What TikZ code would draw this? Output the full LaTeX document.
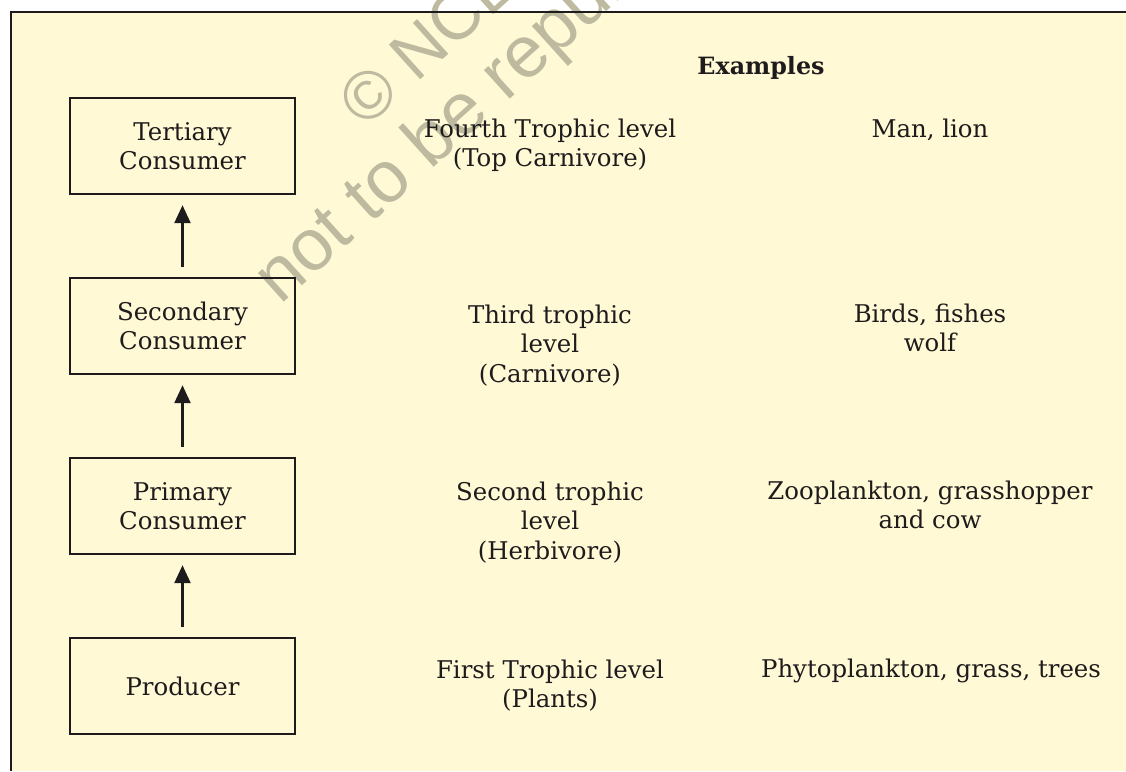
\documentclass[tikz,border=0pt]{standalone}
\usepackage{fontspec}
\setmainfont{DejaVu Serif}
\newfontfamily\wmfont{Liberation Sans}
\usetikzlibrary{arrows.meta}
\definecolor{bgyellow}{HTML}{FFF9D6}
\definecolor{inkc}{HTML}{1E1B1C}
\definecolor{wmc}{HTML}{BDBA9F}
\begin{document}
\begin{tikzpicture}[x=1pt,y=-1pt,
  levelbox/.style={draw=inkc, line width=2.4pt, minimum width=225pt, minimum height=96pt,
    inner sep=0pt, align=center, text=inkc, font=\fontsize{24.4}{29}\selectfont},
  coltext/.style={anchor=base, align=center, inner sep=0pt, text=inkc,
    font=\fontsize{24.4}{29.5}\selectfont},
  uparrow/.style={draw=inkc, line width=2.4pt, -{Triangle[length=18pt,width=16pt]},
    shorten <=10pt, shorten >=10pt},
  wmtext/.style={anchor=base west, rotate=42, inner sep=0pt, text=wmc}]
\useasboundingbox (0,0) rectangle (1126,771);
\fill[bgyellow] (11,12) rectangle (1126,771);
% watermark
\node[wmtext, font=\wmfont\fontsize{68}{68}\selectfont] (wm1) at (365,130) {© NCERT};
\node[wmtext, font=\wmfont\fontsize{73}{73}\selectfont] (wm2) at (280,306) {not to be republished};
% frame
\draw[inkc, line width=2.6pt] (1126,12) -- (11,12) -- (11,771);
% boxes
\node[levelbox] (tert) at (182.5,146) {Tertiary\\Consumer};
\node[levelbox] (sec) at (182.5,326) {Secondary\\Consumer};
\node[levelbox] (prim) at (182.5,506) {Primary\\Consumer};
\node[levelbox] (prod) at (182.5,686) {Producer};
% arrows
\draw[uparrow] (prod.north) -- (prim.south);
\draw[uparrow] (prim.north) -- (sec.south);
\draw[uparrow] (sec.north) -- (tert.south);
% header
\node[coltext, font=\fontsize{23.8}{29}\selectfont\bfseries] (ex) at (761,74) {Examples};
% trophic levels (anchor = baseline of last line)
\node[coltext] (l4) at (550,166.5) {Fourth Trophic level\\(Top Carnivore)};
\node[coltext] (l3) at (550,382) {Third trophic\\level\\(Carnivore)};
\node[coltext] (l2) at (550,559) {Second trophic\\level\\(Herbivore)};
\node[coltext] (l1) at (550,707.5) {First Trophic level\\(Plants)};
% examples
\node[coltext] (e4) at (930,137) {Man, lion};
\node[coltext] (e3) at (930,351.5) {Birds, fishes\\wolf};
\node[coltext] (e2) at (930,528.5) {Zooplankton, grasshopper\\and cow};
\node[coltext] (e1) at (931,677) {Phytoplankton, grass, trees};
\end{tikzpicture}
\end{document}
